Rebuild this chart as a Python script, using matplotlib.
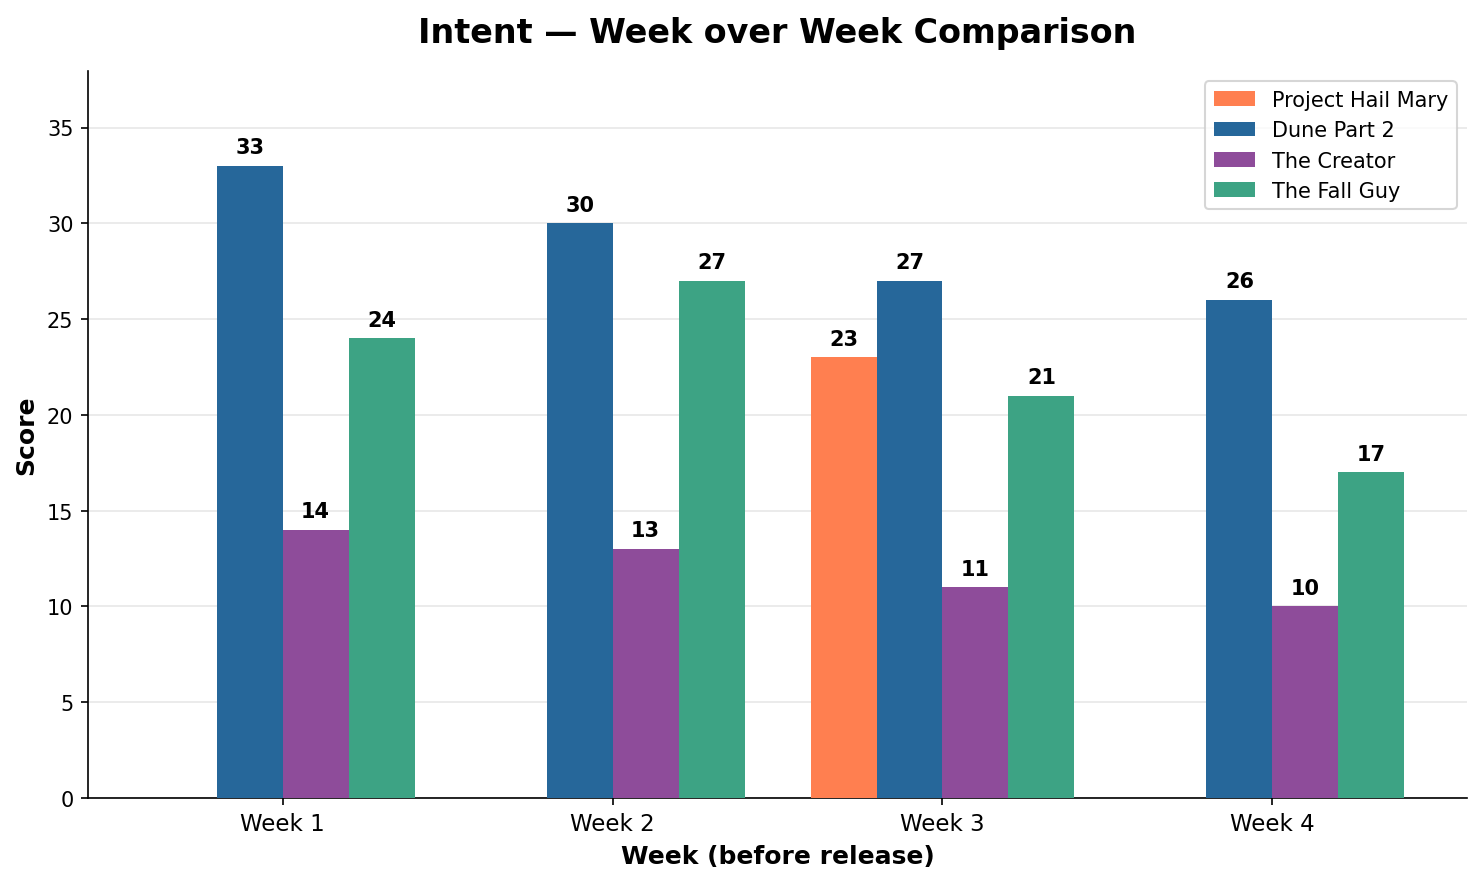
import numpy as np
import matplotlib.pyplot as plt

weeks = ['Week 1', 'Week 2', 'Week 3', 'Week 4']
films = ['Project Hail Mary', 'Dune Part 2', 'The Creator', 'The Fall Guy']
project_hail_mary = [0, 0, 23, 0]
dune_part_2 = [33, 30, 27, 26]
the_creator = [14, 13, 11, 10]
the_fall_guy = [24, 27, 21, 17]
colors = ['#FF7F50', '#26679A', '#8E4C9A', '#3DA384']

series = [project_hail_mary, dune_part_2, the_creator, the_fall_guy]

fig, ax = plt.subplots(figsize=(9.88, 5.893), dpi=150)
x = np.arange(len(weeks))
w = 0.2
for i, (name, vals, c) in enumerate(zip(films, series, colors)):
    pos = x + (i - 1.5) * w
    bars = ax.bar(pos, vals, w, label=name, color=c, zorder=3)
    for b, v in zip(bars, vals):
        if v > 0:
            ax.text(b.get_x() + b.get_width() / 2, v + 0.45, str(v),
                    ha='center', va='bottom', fontsize=10, fontweight='bold')

ax.set_ylim(0, max(dune_part_2) * 1.15)
ax.set_xticks(x)
ax.set_xticklabels(weeks, fontsize=11)
ax.tick_params(axis='y', labelsize=10)
ax.set_xlabel('Week (before release)', fontsize=12, fontweight='bold')
ax.set_ylabel('Score', fontsize=12, fontweight='bold')
ax.set_title('Intent — Week over Week Comparison', fontsize=16, fontweight='bold', pad=14)
ax.grid(axis='y', alpha=0.3, zorder=0)
ax.spines['top'].set_visible(False)
ax.spines['right'].set_visible(False)
ax.legend(fontsize=10, loc='upper right')

plt.subplots_adjust(left=0.0594, right=0.9899, bottom=0.0962, top=0.9186)
plt.savefig('out.png', dpi=150)
